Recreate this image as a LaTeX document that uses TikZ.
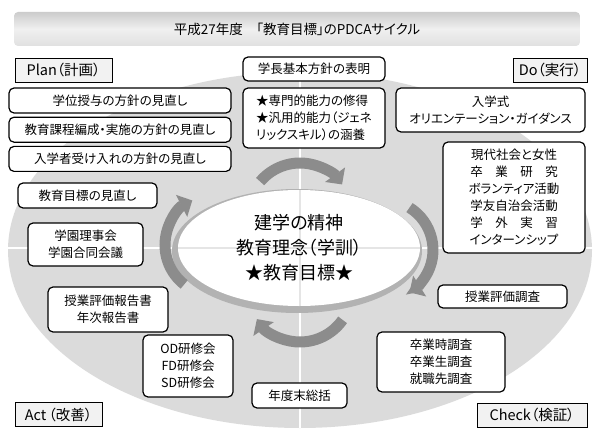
\documentclass[tikz,border=0pt]{standalone}
\usepackage{fontspec}
\setmainfont{Noto Sans CJK JP}
\newfontfamily\jpp[RawFeature=+palt]{Noto Sans CJK JP}
\usetikzlibrary{positioning,arrows.meta}
\tikzset{
  >=Stealth,
}

\begin{document}
\begin{tikzpicture}[
  x=1pt, y=1pt,
  node distance=3pt,
  item/.style={draw, line width=1.2pt, rounded corners=5pt, fill=white, align=center,
    inner sep=1pt, font=\jpp\fontsize{12.5}{17}\selectfont},
  wide/.style={item, minimum width=222pt, minimum height=25pt},
  phase/.style={draw, line width=0.7pt, fill=black!5, inner sep=1pt, minimum height=24pt,
    font=\jpp\fontsize{14.5}{16}\selectfont},
  banner/.style={rounded corners=4pt, top color=black!20, bottom color=black!12,
    middle color=black!6, font=\jpp\fontsize{13.5}{15}\selectfont},
  cycarrow/.style={line width=11pt, draw=black!45, -{Triangle[length=12pt,width=24pt]}},
]
\useasboundingbox (0,0) rectangle (594,429);

\fill[black!14] (300,179) ellipse[x radius=292pt, y radius=178pt];
\begin{scope}
  \clip (300,179) ellipse[x radius=292pt, y radius=178pt];
  \draw[white, line width=2pt] (0,181) -- (594,181) (300,0) -- (300,429);
\end{scope}

\node[banner, minimum width=566pt, minimum height=34pt] (title) at (297,400)
  {平成27年度　「教育目標」のPDCAサイクル};

\coordinate (hub) at (299,181);
\fill[black!30] ([shift={(-2,-3)}]hub) ellipse[x radius=125pt, y radius=62pt];
\fill[white] (hub) ellipse[x radius=121pt, y radius=58pt];
\begin{scope}
  \clip (hub) ellipse[x radius=121pt, y radius=58pt];
  \draw[black!10, line width=1.5pt] (150,181) -- (450,181) (300,100) -- (300,260);
\end{scope}
\node[align=center, font=\jpp\fontsize{18}{25}\selectfont] (core) at (hub)
  {建学の精神\\教育理念（学訓）\\★教育目標★};

\coordinate (ctop) at (300,214);
\coordinate (cright) at (383,179);
\coordinate (cbot) at (300,139);
\coordinate (cleft) at (215,184);
\draw[cycarrow] (ctop) ++(140:52pt) arc[start angle=140, end angle=36, radius=52pt];
\draw[cycarrow] (cright) ++(58:50pt) arc[start angle=58, end angle=-58, radius=50pt];
\draw[cycarrow] (cbot) ++(-35:52pt) arc[start angle=-35, end angle=-146, radius=52pt];
\draw[cycarrow] (cleft) ++(232:50pt) arc[start angle=232, end angle=117, radius=50pt];

\node[phase, minimum width=97pt] (plan) at (63.5,359) {Plan（計画）};
\node[phase, minimum width=74pt] (do) at (550,359) {Do（実行）};
\node[phase, minimum width=87pt] (act) at (58.5,14.5) {Act\,（改善）};
\node[phase, minimum width=110pt] (check) at (532,14) {Check（検証）};

\node[item, minimum width=142pt, minimum height=24pt] (dept) at (314,360) {学長基本方針の表明};
\node[item, minimum width=142pt, minimum height=60pt, align=left] (goal) at (314,311)
  {★専門的能力の修得\\★汎用的能力（ジェネ\\リックスキル）の涵養};

\node[wide] (pol1) at (120,328.5) {学位授与の方針の見直し};
\node[wide, below=of pol1] (pol2) {教育課程編成・実施の方針の見直し};
\node[wide, below=of pol2] (pol3) {入学者受け入れの方針の見直し};
\node[item, minimum width=139pt, minimum height=25pt] (rev) at (87.5,233.5) {教育目標の見直し};
\node[item, minimum width=115pt, minimum height=43pt] (board) at (85.5,184.5) {学園理事会\\学園合同会議};
\node[item, minimum width=120pt, minimum height=45pt] (rep) at (108,119.5) {授業評価報告書\\年次報告書};
\node[item, minimum width=90pt, minimum height=62pt] (train) at (188,63) {OD研修会\\FD研修会\\SD研修会};
\node[item, minimum width=95pt, minimum height=25pt] (annual) at (299.5,33.5) {年度末総括};

\node[item, minimum width=189pt, minimum height=44pt] (entr) at (490.5,319)
  {入学式\\オリエンテーション・ガイダンス};
\node[item, minimum width=142pt, minimum height=111pt] (life) at (514,231.5)
  {現代社会と女性\\卒　業　研　究\\ボランティア活動\\学友自治会活動\\学　外　実　習\\インターンシップ};
\node[item, minimum width=129pt, minimum height=23pt] (svy) at (502.5,132.5) {授業評価調査};
\node[item, minimum width=128pt, minimum height=60pt] (grad) at (441,67) {卒業時調査\\卒業生調査\\就職先調査};

\end{tikzpicture}
\end{document}
